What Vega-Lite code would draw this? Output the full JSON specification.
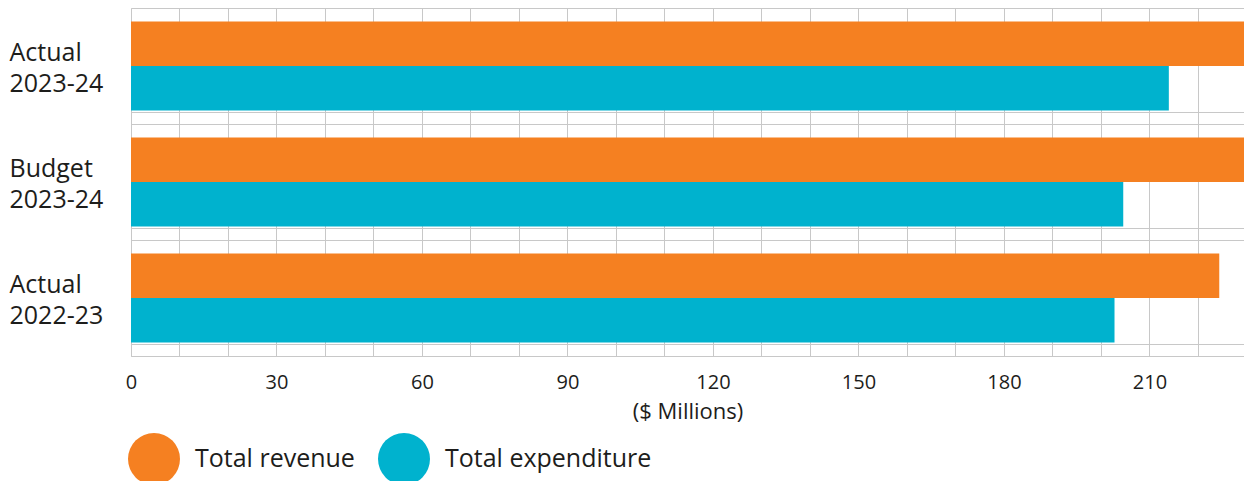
{
  "$schema": "https://vega.github.io/schema/vega-lite/v6.json",
  "autosize": "none",
  "width": 1113,
  "height": 348,
  "padding": {"left": 131, "top": 8, "right": 0, "bottom": 125},
  "background": "white",
  "config": {
    "view": {"stroke": null},
    "font": "Open Sans",
    "axis": {"labelColor": "#1d1d1b", "titleColor": "#1d1d1b"},
    "legend": {"labelColor": "#1d1d1b"}
  },
  "data": {
    "values": [
      {"period": "Actual 2023-24", "series": "Total revenue", "value": 230},
      {"period": "Actual 2023-24", "series": "Total expenditure", "value": 214.0},
      {"period": "Budget 2023-24", "series": "Total revenue", "value": 230},
      {"period": "Budget 2023-24", "series": "Total expenditure", "value": 204.6},
      {"period": "Actual 2022-23", "series": "Total revenue", "value": 224.4},
      {"period": "Actual 2022-23", "series": "Total expenditure", "value": 202.8}
    ]
  },
  "encoding": {
    "x": {
      "field": "value",
      "type": "quantitative",
      "scale": {"domain": [0, 229.5], "nice": false, "zero": true},
      "axis": {
        "title": "($ Millions)",
        "values": [0, 10, 20, 30, 40, 50, 60, 70, 80, 90, 100, 110, 120, 130, 140, 150, 160, 170, 180, 190, 200, 210, 220],
        "labelExpr": "datum.value % 30 === 0 ? datum.label : ''",
        "grid": true,
        "gridColor": "#c8c8c8",
        "gridWidth": 1,
        "ticks": false,
        "domainColor": "#c8c8c8",
        "labelPadding": 16,
        "labelFontSize": 20,
        "labelFlush": false,
        "titleFontSize": 22,
        "titleFontWeight": "normal",
        "titlePadding": 9
      }
    },
    "yOffset": {
      "field": "series",
      "type": "nominal",
      "sort": ["Total revenue", "Total expenditure"],
      "scale": {"paddingInner": 0, "paddingOuter": 0.3}
    }
  },
  "layer": [
    {
      "mark": {"type": "bar", "clip": true},
      "encoding": {
        "y": {
          "field": "period",
          "type": "nominal",
          "sort": ["Actual 2023-24", "Budget 2023-24", "Actual 2022-23"],
          "scale": {"paddingInner": 0, "paddingOuter": 0},
          "axis": {
            "title": null,
            "tickBand": "extent",
            "grid": true,
            "gridColor": "#c8c8c8",
            "gridWidth": 1,
            "ticks": false,
            "domain": true,
            "domainColor": "#c8c8c8",
            "labelAlign": "left",
            "labelPadding": 122,
            "labelFontSize": 25,
            "labelLineHeight": 31,
            "labelBaseline": "middle",
            "labelOffset": -14,
            "labelExpr": "split(datum.label, ' ')"
          }
        },
        "color": {
          "field": "series",
          "type": "nominal",
          "sort": ["Total revenue", "Total expenditure"],
          "scale": {"domain": ["Total revenue", "Total expenditure"], "range": ["#F58021", "#00B2CE"]},
          "legend": {
            "title": null,
            "orient": "none",
            "legendX": -3,
            "legendY": 425,
            "direction": "horizontal",
            "padding": 0,
            "symbolType": "circle",
            "symbolSize": 2704,
            "symbolStrokeWidth": 0,
            "labelFontSize": 25,
            "labelOffset": 15,
            "labelLimit": 0,
            "columnPadding": 23
          }
        }
      }
    },
    {
      "mark": {"type": "bar", "opacity": 0},
      "encoding": {
        "y": {
          "field": "period",
          "type": "nominal",
          "sort": ["Actual 2023-24", "Budget 2023-24", "Actual 2022-23"],
          "axis": {
            "title": null,
            "orient": "left",
            "bandPosition": 0.8966,
            "grid": true,
            "gridColor": "#c8c8c8",
            "gridWidth": 1,
            "labels": false,
            "ticks": false,
            "domain": false
          }
        }
      }
    }
  ],
  "resolve": {"axis": {"y": "independent"}}
}
